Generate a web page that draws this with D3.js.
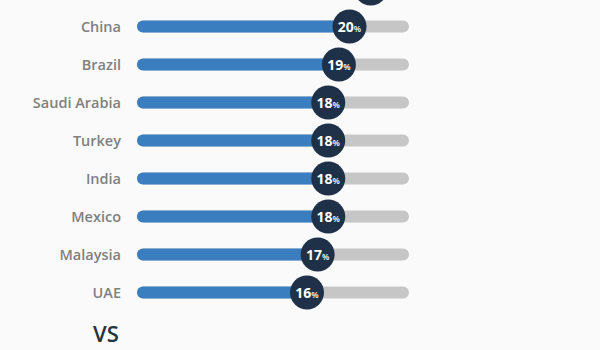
<!DOCTYPE html>
<html>
<head>
<meta charset="utf-8">
<script src="https://cdn.jsdelivr.net/npm/d3@7"></script>
<style>
  html, body { margin: 0; padding: 0; background: #fafafa; }
  svg { display: block; }
</style>
</head>
<body>
<svg id="chart" width="600" height="350"></svg>
<script>
// Rows of the ranking (first row sits just above the visible area)
const categories = ["", "China", "Brazil", "Saudi Arabia", "Turkey", "India", "Mexico", "Malaysia", "UAE"];
const values = [22, 20, 19, 18, 18, 18, 18, 17, 16];
const footerText = "VS";

const svg = d3.select("#chart");
const W = 600, H = 350;

svg.append("rect").attr("width", W).attr("height", H).attr("fill", "#fafafa");

const x = d3.scaleLinear().domain([0, 25.6]).range([137, 409]);
const y = d3.scalePoint().domain(categories).range([-11.5, 292.5]);

const barH = 12;
const r = 17;

const rows = svg.append("g").selectAll("g")
  .data(categories.map((c, i) => ({ c, v: values[i] })))
  .join("g")
  .attr("transform", d => `translate(0,${y(d.c)})`);

// grey track
rows.append("rect")
  .attr("x", x(0)).attr("y", -barH / 2)
  .attr("width", x.range()[1] - x(0)).attr("height", barH)
  .attr("rx", barH / 2)
  .attr("fill", "#c6c6c6");

// blue fill up to the value
rows.append("rect")
  .attr("x", x(0)).attr("y", -barH / 2)
  .attr("width", d => x(d.v) - x(0)).attr("height", barH)
  .attr("rx", barH / 2)
  .attr("fill", "#3a7ebf");

// category labels
rows.append("text")
  .attr("x", 121).attr("y", 5)
  .attr("text-anchor", "end")
  .attr("font-family", "'Open Sans', sans-serif")
  .attr("font-weight", 600)
  .attr("font-size", 14.5)
  .attr("fill", "#808080")
  .text(d => d.c);

// value badge
rows.append("circle")
  .attr("cx", d => x(d.v)).attr("cy", 0).attr("r", r)
  .attr("fill", "#1f3148");

// badge text only for rows whose badge text lies inside the frame
const vt = rows.filter(d => y(d.c) > 0).append("text")
  .attr("x", d => x(d.v)).attr("y", 5)
  .attr("text-anchor", "middle")
  .attr("font-family", "'Open Sans', sans-serif")
  .attr("font-weight", 700)
  .attr("fill", "#ffffff");
vt.append("tspan").attr("font-size", 14).text(d => d.v);
vt.append("tspan").attr("font-size", 8.5).attr("font-weight", 600).text("%");

svg.append("text")
  .attr("x", 93).attr("y", 342)
  .attr("font-family", "'Open Sans', sans-serif")
  .attr("font-weight", 600)
  .attr("font-size", 22)
  .attr("fill", "#283341")
  .text(footerText);
</script>
</body>
</html>
